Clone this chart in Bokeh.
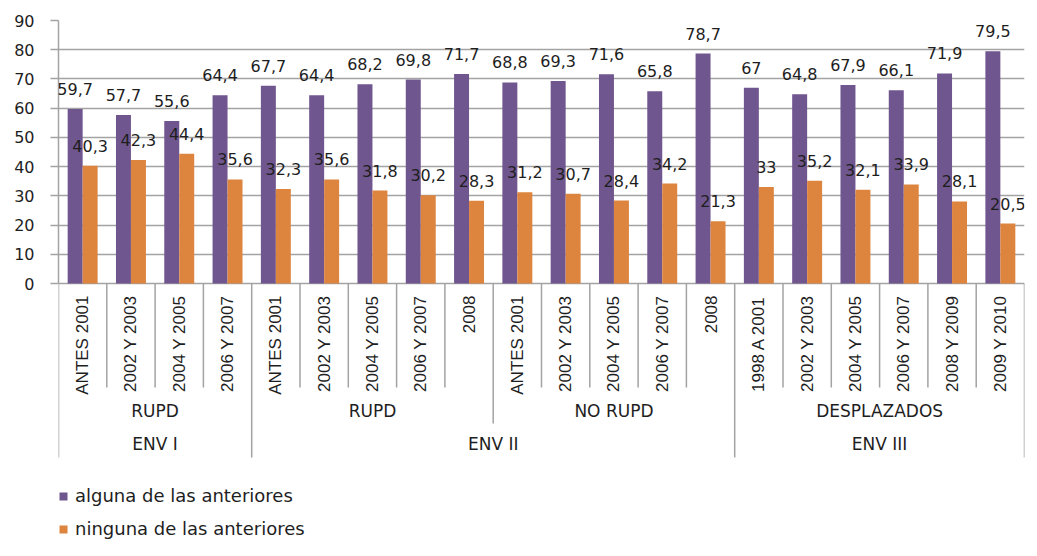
import math
from bokeh.plotting import figure
from bokeh.models import (FactorRange, Range1d, ColumnDataSource, FixedTicker,
                          Legend, LegendItem, LabelSet)
from bokeh.transform import dodge
from bokeh.core.properties import value
from bokeh.embed import file_html
from bokeh.resources import INLINE

# ---------------- data ----------------
envs = ["ENV I"] * 4 + ["ENV II"] * 10 + ["ENV III"] * 6
groups = ["RUPD"] * 4 + ["RUPD"] * 5 + ["NO RUPD"] * 5 + ["DESPLAZADOS"] * 6
periods = ["ANTES 2001", "2002 Y 2003", "2004 Y 2005", "2006 Y 2007",
           "ANTES 2001", "2002 Y 2003", "2004 Y 2005", "2006 Y 2007", "2008",
           "ANTES 2001", "2002 Y 2003", "2004 Y 2005", "2006 Y 2007", "2008",
           "1998 A 2001", "2002 Y 2003", "2004 Y 2005", "2006 Y 2007",
           "2008 Y 2009", "2009 Y 2010"]
alguna = [59.7, 57.7, 55.6, 64.4, 67.7, 64.4, 68.2, 69.8, 71.7, 68.8,
          69.3, 71.6, 65.8, 78.7, 67, 64.8, 67.9, 66.1, 71.9, 79.5]
ninguna = [40.3, 42.3, 44.4, 35.6, 32.3, 35.6, 31.8, 30.2, 28.3, 31.2,
           30.7, 28.4, 34.2, 21.3, 33, 35.2, 32.1, 33.9, 28.1, 20.5]
series_names = ["alguna de las anteriores", "ninguna de las anteriores"]
y_ticks = [0, 10, 20, 30, 40, 50, 60, 70, 80, 90]

# ---------------- styles ----------------
PURPLE = "#6F568E"
ORANGE = "#DD843E"
GRID = "#A3A3A3"
TXT = "#1E1E1E"
FONT = "DejaVu Sans"
NARROW = "Liberation Sans"

W, H = 1029, 540
TOP, LEFT, RIGHT = 20, 58, 5
PPU = 263 / 90.0          # pixels per unit
ZERO_PX = TOP + 90 * PPU  # figure y of value 0


def below(px):
    return -px / PPU


factors = list(zip(envs, groups, periods))
fmt = lambda v: f"{v:g}".replace(".", ",")

x_range = FactorRange(factors=factors, factor_padding=0, subgroup_padding=0,
                      group_padding=0, range_padding=0)
y_range = Range1d(below(H - ZERO_PX), 90)

p = figure(width=W, height=H, x_range=x_range, y_range=y_range,
           x_axis_location=None, toolbar_location=None, output_backend="svg",
           min_border_left=LEFT, min_border_right=RIGHT, min_border_top=TOP,
           min_border_bottom=0, outline_line_color=None)

p.xgrid.visible = False
p.ygrid.ticker = FixedTicker(ticks=y_ticks)
p.ygrid.grid_line_color = GRID
p.ygrid.grid_line_width = 1.5

ax = p.yaxis[0]
ax.ticker = FixedTicker(ticks=y_ticks)
ax.bounds = (0, 90)
ax.axis_line_color = GRID
ax.axis_line_width = 1.5
ax.major_tick_line_color = GRID
ax.major_tick_line_width = 1.5
ax.major_tick_out = 8
ax.major_tick_in = 0
ax.minor_tick_line_color = None
ax.major_label_standoff = 16
ax.major_label_text_font = FONT
ax.major_label_text_font_size = "16px"
ax.major_label_text_color = TXT

src = ColumnDataSource(dict(
    x=factors, alguna=alguna, ninguna=ninguna,
    alguna_lbl=[fmt(v) for v in alguna],
    ninguna_lbl=[fmt(v) for v in ninguna],
))

OFF, BW = 0.155, 0.31
r1 = p.vbar(x=dodge("x", -OFF, range=p.x_range), top="alguna", width=BW,
            fill_color=PURPLE, line_color=None, source=src)
r2 = p.vbar(x=dodge("x", OFF, range=p.x_range), top="ninguna", width=BW,
            fill_color=ORANGE, line_color=None, source=src)

for col, off in (("alguna", -OFF), ("ninguna", OFF)):
    p.add_layout(LabelSet(x=dodge("x", off, range=p.x_range), y=col,
                          text=col + "_lbl", source=src,
                          text_align="center", text_baseline="alphabetic",
                          y_offset=14, text_font=value(FONT),
                          text_font_size=value("16px"), text_color=TXT))

# ---- separators of the multi-level category axis ----
sep_x, sep_y = [], []
for i, f in enumerate(factors):
    if i == 0 or envs[i] != envs[i - 1]:
        depth = 174
    elif groups[i] != groups[i - 1]:
        depth = 140
    else:
        depth = 104
    sep_x.append(f + (-0.5,))
    sep_y.append(below(depth))
sep_x.append(factors[-1] + (0.5,))
sep_y.append(below(174))
p.segment(x0="x", y0=0, x1="x", y1="y",
          source=ColumnDataSource(dict(x=sep_x, y=sep_y)),
          line_color=GRID, line_width=1.5)

# ---- leaf labels (vertical) ----
p.text(x="x", y=below(12), text="t",
       source=ColumnDataSource(dict(x=factors, t=periods)),
       angle=math.pi / 2, text_align="right", text_baseline="middle",
       text_font=value(NARROW), text_font_size="17px", text_color=TXT)

# ---- subgroup labels ----
sub_keys = []
for e, g in zip(envs, groups):
    if (e, g) not in sub_keys:
        sub_keys.append((e, g))
p.text(x="x", y=below(127), text="t",
       source=ColumnDataSource(dict(x=sub_keys, t=[g for _, g in sub_keys])),
       text_align="center", text_baseline="middle",
       text_font=value(FONT), text_font_size="17px", text_color=TXT)

# ---- top-level labels ----
top_keys = list(dict.fromkeys(envs))
p.text(x="x", y=below(160), text="t",
       source=ColumnDataSource(dict(x=top_keys, t=top_keys)),
       text_align="center", text_baseline="middle",
       text_font=value(FONT), text_font_size="17px", text_color=TXT)

# ---- legend ----
legend = Legend(items=[LegendItem(label=series_names[0], renderers=[r1]),
                       LegendItem(label=series_names[1], renderers=[r2])],
                location=(0, 1), orientation="vertical",
                glyph_width=10, glyph_height=10, label_height=10,
                label_standoff=7, spacing=12, padding=0, margin=0,
                border_line_color=None, background_fill_alpha=0,
                label_text_font=FONT, label_text_font_size="18px",
                label_text_color=TXT)
p.add_layout(legend)

open("out.html", "w").write(file_html(p, INLINE))
